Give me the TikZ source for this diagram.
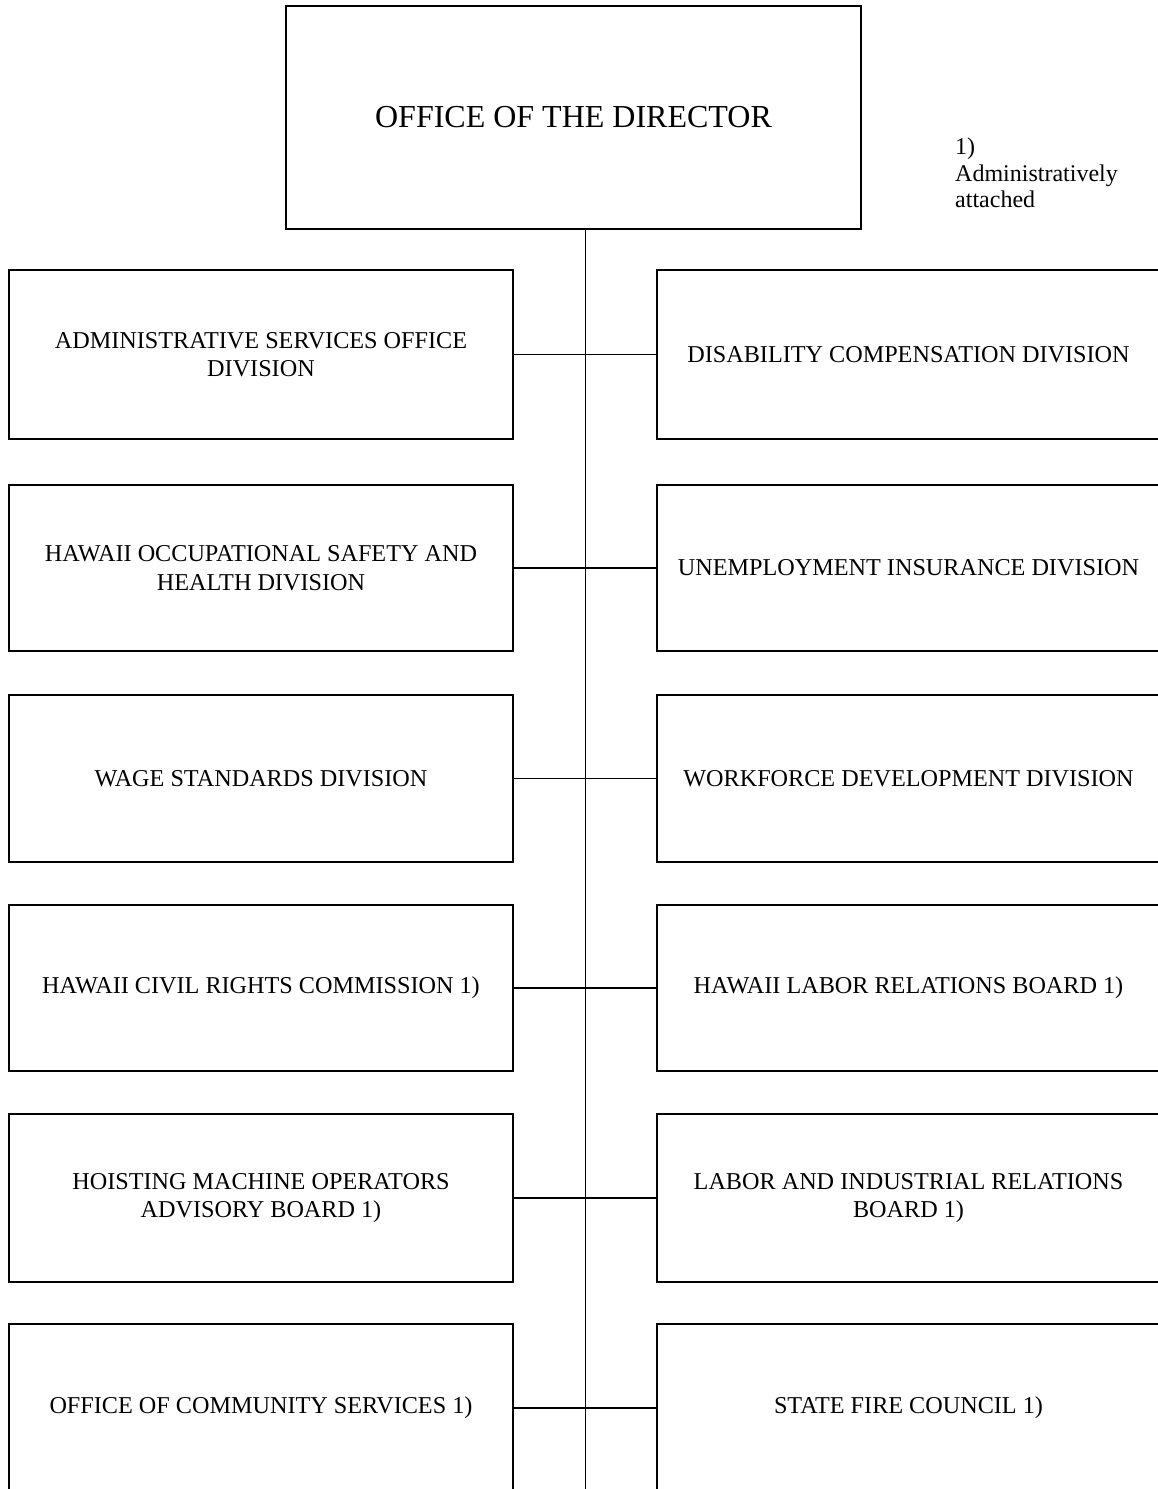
\documentclass[tikz,border=0pt]{standalone}
\usepackage{fontspec}
\setmainfont{Liberation Serif}
\begin{document}
\begin{tikzpicture}[x=1pt,y=-1pt,
  unitbox/.style={draw,line width=2pt,rectangle,align=center,inner sep=0pt,
    font=\fontsize{24.2}{28.5}\selectfont},
  leftbox/.style={unitbox,minimum width=504pt},
  rightbox/.style={unitbox,minimum width=503pt},
  link/.style={line width=1.1pt},
  spine/.style={line width=0.9pt}]
\useasboundingbox (0,0) rectangle (1158,1489);
\clip (0,0) rectangle (1158,1489);
\fill[white] (0,0) rectangle (1158,1489);

\node[unitbox,minimum width=575pt,minimum height=223pt,font=\fontsize{32}{36}\selectfont] (dir) at (573.5,117.5) {OFFICE OF THE DIRECTOR};
\node[anchor=north west,align=left,inner sep=0pt,font=\fontsize{24}{26.5}\selectfont] (note) at (955,138) {1)\\Administratively\\attached};

\coordinate (vtop) at (585,229);
\coordinate (vbot) at (585,1500);
\draw[spine] (vtop) -- (vbot);

\node[leftbox,minimum height=169pt] (l1) at (261,354.5) {ADMINISTRATIVE SERVICES OFFICE\\DIVISION};
\node[rightbox,minimum height=169pt] (r1) at (908.5,354.5) {DISABILITY COMPENSATION DIVISION};

\node[leftbox,minimum height=166pt] (l2) at (261,568) {HAWAII OCCUPATIONAL SAFETY AND\\HEALTH DIVISION};
\node[rightbox,minimum height=166pt] (r2) at (908.5,568) {UNEMPLOYMENT INSURANCE DIVISION};

\node[leftbox,minimum height=167pt] (l3) at (261,778.5) {WAGE STANDARDS DIVISION};
\node[rightbox,minimum height=167pt] (r3) at (908.5,778.5) {WORKFORCE DEVELOPMENT DIVISION};

\node[leftbox,minimum height=166pt] (l4) at (261,988) {HAWAII CIVIL RIGHTS COMMISSION 1)};
\node[rightbox,minimum height=166pt] (r4) at (908.5,988) {HAWAII LABOR RELATIONS BOARD 1)};

\node[leftbox,minimum height=168pt] (l5) at (261,1198) {HOISTING MACHINE OPERATORS\\ADVISORY BOARD 1)};
\node[rightbox,minimum height=168pt] (r5) at (908.5,1198) {LABOR AND INDUSTRIAL RELATIONS\\BOARD 1)};

\node[leftbox,minimum height=168pt] (l6) at (261,1408) {OFFICE OF COMMUNITY SERVICES 1)};
\node[rightbox,minimum height=168pt] (r6) at (908.5,1408) {STATE FIRE COUNCIL 1)};

\foreach \i in {1,...,6}{
  \draw[link] (l\i.east) -- (r\i.west);
}
\end{tikzpicture}
\end{document}
